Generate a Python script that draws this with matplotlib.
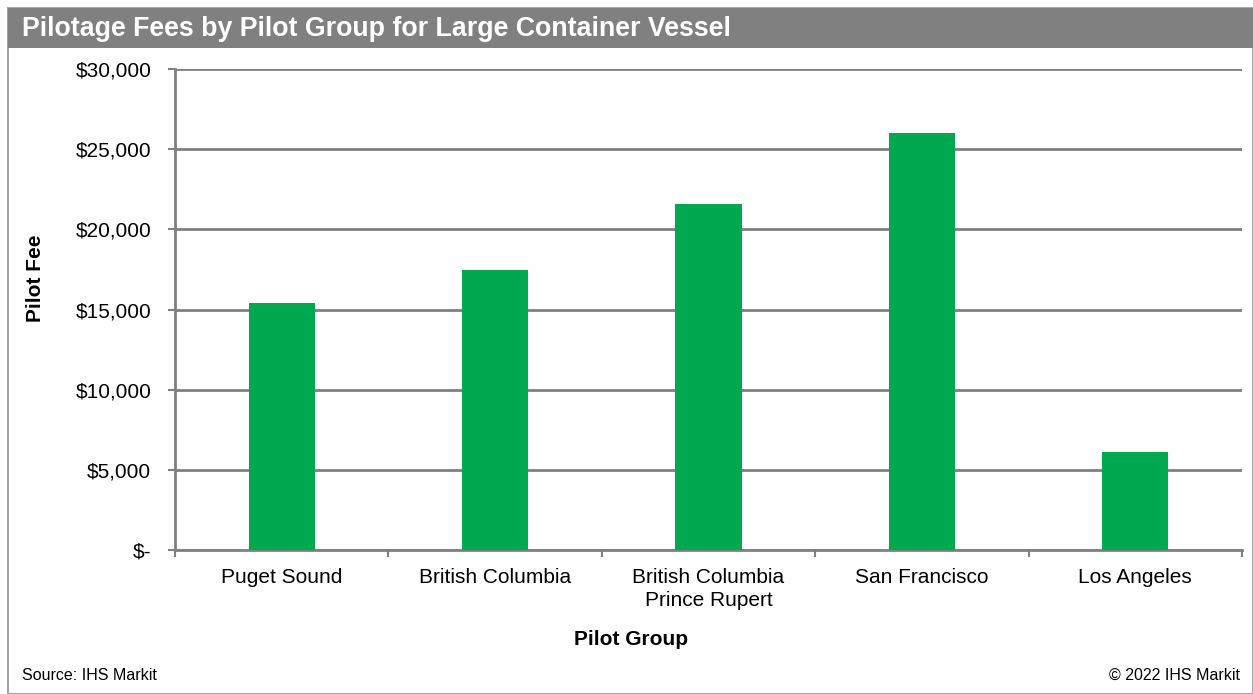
import matplotlib.pyplot as plt
from matplotlib.patches import Rectangle
from matplotlib.ticker import FuncFormatter, FixedLocator

plt.rcParams["font.family"] = ["Liberation Sans", "DejaVu Sans"]

# === Dados ===
groups = ["Puget Sound", "British Columbia", "British Columbia\nPrince Rupert",
          "San Francisco", "Los Angeles"]
fees = [15400, 17450, 21600, 26000, 6100]

GREEN = "#00A84F"
GRAY = "#808080"

fig = plt.figure(figsize=(12.53, 6.94), dpi=100)

# === Moldura e faixa do título ===
W, H = 1253, 694
fig.patches.append(Rectangle((8 / W, 0), (W - 8) / W, 1 - 8 / H, transform=fig.transFigure,
                             facecolor="white", edgecolor="#A6A6A6", linewidth=1.5, zorder=-2))
fig.patches.append(Rectangle((8 / W, 1 - 48 / H), (W - 8) / W, 40 / H, transform=fig.transFigure,
                             facecolor=GRAY, edgecolor="none", zorder=-1))
fig.text(22 / W, 1 - 29 / H, "Pilotage Fees by Pilot Group for Large Container Vessel",
         color="white", fontsize=19.3, fontweight="bold", va="center", ha="left")

# === Eixos ===
ax = fig.add_axes([175 / W, 1 - 550 / H, (1242 - 175) / W, (550 - 69) / H])
ax.patch.set_alpha(0)
x = list(range(len(groups)))
ax.bar(x, fees, width=0.31, color=GREEN, zorder=3)

ax.set_xlim(-0.5, len(groups) - 0.5)
ax.set_ylim(0, 30000)
ax.set_yticks(range(0, 30001, 5000))
ax.yaxis.set_major_formatter(FuncFormatter(lambda v, p: "$-" if v == 0 else f"${v:,.0f}"))
ax.grid(axis="y", color=GRAY, linewidth=2, zorder=0)
ax.set_axisbelow(True)

ax.set_xticks(x)
ax.set_xticklabels(groups, fontsize=15, linespacing=1.25)
ax.xaxis.set_minor_locator(FixedLocator([i - 0.5 for i in range(len(groups) + 1)]))
ax.tick_params(axis="x", which="major", length=0, pad=13)
ax.tick_params(axis="x", which="minor", length=5, color=GRAY, width=1.5)
ax.tick_params(axis="y", labelsize=15, length=5, color=GRAY, width=1.5, pad=12)

for s in ["top", "right"]:
    ax.spines[s].set_visible(False)
for s in ["left", "bottom"]:
    ax.spines[s].set_color(GRAY)
    ax.spines[s].set_linewidth(2)

ax.set_ylabel("Pilot Fee", fontsize=15, fontweight="bold")
ax.set_xlabel("Pilot Group", fontsize=15, fontweight="bold")
ax.yaxis.set_label_coords(-0.122, 0.565)
ax.xaxis.set_label_coords(0.427, -0.166)

# === Rodapé ===
fig.text(22 / W, 1 - 675 / H, "Source: IHS Markit", fontsize=11.5, va="center", ha="left")
fig.text(1240 / W, 1 - 675 / H, "\u00a9 2022 IHS Markit", fontsize=11.5, va="center", ha="right")

plt.savefig("out.png", dpi=100)
